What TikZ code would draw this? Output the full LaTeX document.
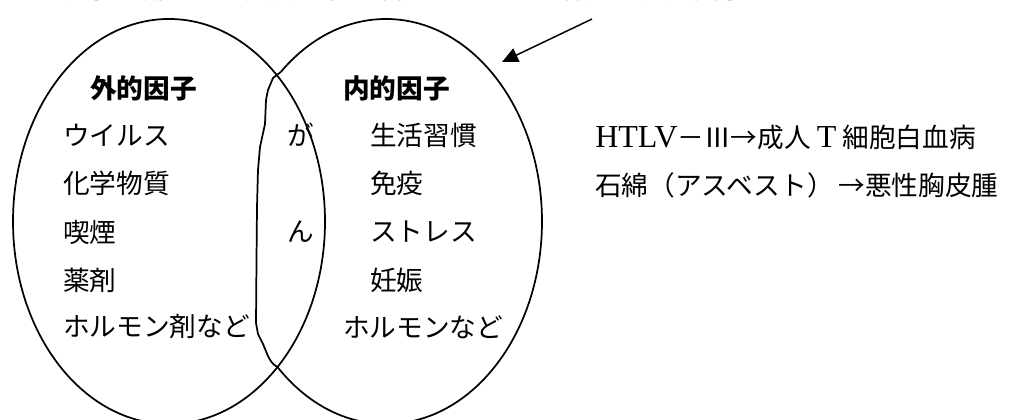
\documentclass[tikz,border=0pt]{standalone}
\usepackage{fontspec}
\setmainfont{Noto Sans CJK JP}
\newfontfamily\lat[Scale=1.2]{Liberation Serif}
\usetikzlibrary{arrows.meta,calc}
\tikzset{
  txt/.style={anchor=west,inner sep=0pt,font=\fontsize{20pt}{24pt}\selectfont},
  head/.style={txt,font=\fontsize{20pt}{24pt}\selectfont\bfseries},
  outline/.style={line width=1.3pt,black},
}
\begin{document}
\begin{tikzpicture}[x=0.75pt,y=-0.75pt]
\useasboundingbox (0,0) rectangle (1016,419);
\begin{scope}
\clip (0,0) rectangle (1016,419);
% top caption (cut off by the page edge, as in the reference)
\node[txt,anchor=base west] (cap1) at (34,-1.5) {遺伝子が傷つき、変異の組み合わさる};
\node[txt,anchor=base west] (cap2) at (560,-1.5) {特定の発見因子};
% left ellipse
\draw[outline] (169,221.5) ellipse [x radius=117pt, y radius=151.9pt];
% right ellipse (right part) and freehand left boundary
\coordinate (rc) at (386,221.5);
\draw[outline] ($(rc)+(132.4:117pt and 151.9pt)$) coordinate (topx)
  arc[start angle=132.4, end angle=-134, x radius=117pt, y radius=151.9pt] coordinate (botx);
\draw[outline,line join=round] (botx) .. controls (272,364) and (270,360) .. (268,356)
  -- (263,344) -- (258,334) -- (256,323) -- (256.5,260) -- (257,207) -- (258,170)
  -- (260,147) -- (265,124) -- (266,100) -- (268,90) -- (273,78) -- (topx);
\end{scope}
% labels
\node[head] (ext) at (90,88) {外的因子};
\node[txt] (e1) at (63,135) {ウイルス};
\node[txt] (e2) at (63,183) {化学物質};
\node[txt] (e3) at (63,232) {喫煙};
\node[txt] (e4) at (63,280) {薬剤};
\node[txt] (e5) at (63,327) {ホルモン剤など};
\node[txt] (ga) at (287,135) {が};
\node[txt] (n) at (287,232) {ん};
\node[head] (int) at (343,88) {内的因子};
\node[txt] (i1) at (370,135) {生活習慣};
\node[txt] (i2) at (370,183) {免疫};
\node[txt] (i3) at (370,232) {ストレス};
\node[txt] (i4) at (370,280) {妊娠};
\node[txt] (i5) at (343,327) {ホルモンなど};
\node[txt] (r1) at (595,137) {{\lat HTLV}－Ⅲ→成人 {\lat T} 細胞白血病};
\node[txt] (r2) at (595,185) {石綿（アスベスト）\,→悪性胸皮腫};
% arrow
\coordinate (as) at (592,19);
\coordinate (ae) at (502,62);
\draw[line width=1.1pt,-{Triangle[length=12pt,width=11pt]}] (as) -- (ae);
\end{tikzpicture}
\end{document}
